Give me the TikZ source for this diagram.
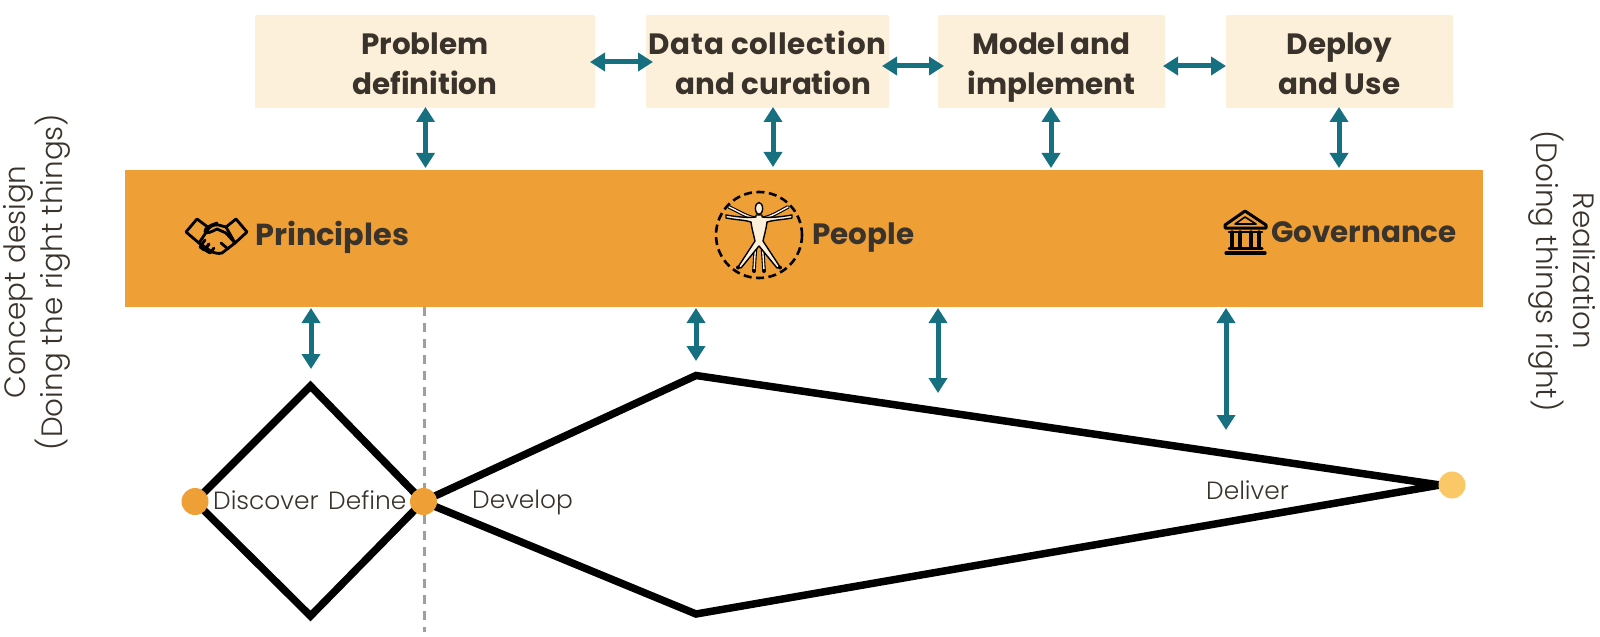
\documentclass[tikz,border=0pt]{standalone}
\usepackage{fontspec}
\usetikzlibrary{arrows.meta}
\setmainfont{Poppins}
\newfontfamily\headfont{Poppins}[UprightFont=* Bold]
\newfontfamily\lightfont{Poppins}[UprightFont=* Light]
\newcommand{\firstline}{\rule{0pt}{38bp}}
\definecolor{boxfill}{HTML}{FDF0DA}
\definecolor{band}{HTML}{EE9F36}
\definecolor{teal}{HTML}{16707F}
\definecolor{ink}{HTML}{3A332B}
\definecolor{dotor}{HTML}{EE9F36}
\definecolor{dotyl}{HTML}{FBC868}
\definecolor{dashgrey}{HTML}{A39E99}
\tikzset{
 x=1bp,y=-1bp,
 topbox/.style={fill=boxfill,rounded corners=2bp,minimum height=93bp,inner sep=0pt,align=center,anchor=center,text=ink,font=\headfont\fontsize{29.5}{40}\selectfont},
 bandtext/.style={text=ink,anchor=base west,inner sep=0pt,font=\headfont\fontsize{29.5}{30}\selectfont},
 lbl/.style={text=ink,inner sep=0pt,anchor=base west,font=\lightfont\fontsize{25}{26}\selectfont},
 side/.style={text=ink,inner sep=0pt,align=center,font=\lightfont\fontsize{29.5}{37}\selectfont},
 link/.style={draw=teal,line width=5bp,{Triangle[length=15bp,width=18bp]}-{Triangle[length=15bp,width=18bp]}},
 heavy/.style={draw=black,line width=7.5bp,line join=miter},
 icon/.style={draw=black,line width=2.8bp,line join=round,line cap=round},
 dot/.style={circle,minimum size=27bp,inner sep=0pt},
 limb/.style={draw=black,line width=3.6bp,line cap=round,line join=round},
 limbcore/.style={draw=boxfill,line width=1.4bp,line cap=round,line join=round},
}
\begin{document}
\begin{tikzpicture}
\useasboundingbox (0,0) rectangle (1600,637);
\fill[white] (0,0) rectangle (1600,637);
% dashed divider
\coordinate (divtop) at (424.5,307);
\coordinate (divbot) at (424.5,632);
\draw[dashgrey,line width=2.6bp,dash pattern=on 9bp off 7bp] (divtop) -- (divbot);
% top boxes
\node[topbox,minimum width=340bp] (problem) at (425,61.5) {\firstline Problem\\\strut definition};
\node[topbox,minimum width=243bp] (data) at (767.5,61.5) {\firstline{\addfontfeature{LetterSpace=2.4}Data collection}\\\strut\hspace{12bp}and curation};
\node[topbox,minimum width=227bp] (model) at (1051.5,61.5) {\firstline Model and\\\strut implement};
\node[topbox,minimum width=227bp] (deploy) at (1339.5,61.5) {\firstline Deploy\\\strut and Use};
% band
\node[fill=band,minimum width=1358bp,minimum height=137bp,inner sep=0pt] (bandbox) at (804,238.5) {};
\node[bandtext,font=\headfont\fontsize{30.5}{30}\selectfont] (principles) at (255,245) {Principles};
\node[bandtext] (people) at (812,244) {People};
\node[bandtext] (governance) at (1271,242) {Governance};
% horizontal links
\coordinate (h1a) at (590,62); \coordinate (h1b) at (653,62);
\coordinate (h2a) at (882,66); \coordinate (h2b) at (944,66);
\coordinate (h3a) at (1163,66); \coordinate (h3b) at (1226,66);
\draw[link] (h1a) -- (h1b);
\draw[link] (h2a) -- (h2b);
\draw[link] (h3a) -- (h3b);
% vertical links top
\draw[link] (425.5,107) coordinate (v1a) -- (425.5,168) coordinate (v1b);
\draw[link] (773,107) coordinate (v2a) -- (773,167) coordinate (v2b);
\draw[link] (1051,107) coordinate (v3a) -- (1051,168) coordinate (v3b);
\draw[link] (1339,107) coordinate (v4a) -- (1339,168) coordinate (v4b);
% vertical links bottom
\draw[link] (311,308) coordinate (l1a) -- (311,369) coordinate (l1b);
\draw[link] (696,308) coordinate (l2a) -- (696,361) coordinate (l2b);
\draw[link] (938,308) coordinate (l3a) -- (938,393) coordinate (l3b);
\draw[link] (1226,308) coordinate (l4a) -- (1226,430) coordinate (l4b);
% diamond and kite
\coordinate (dl) at (195,501.5);
\coordinate (dt) at (310.5,386);
\coordinate (dr) at (423,501.5);
\coordinate (db) at (310.5,616);
\coordinate (kt) at (696,375.5);
\coordinate (kb) at (696,614);
\coordinate (ke) at (1440,485);
\draw[heavy] (dl) -- (dt) -- (dr) -- (db) -- cycle;
\draw[heavy] (dr) -- (kt) -- (ke) -- (kb) -- cycle;
\node[dot,fill=dotor] (startdot) at (195,501.5) {};
\node[dot,fill=dotor] (middot) at (423.5,501.5) {};
\node[dot,fill=dotyl] (enddot) at (1452,485) {};
% labels
\node[lbl] (discover) at (213,509) {Discover};
\node[lbl] (define) at (328,509) {Define};
\node[lbl] (develop) at (472,508) {Develop};
\node[lbl] (deliver) at (1206,499) {Deliver};
\node[side,rotate=90] (concept) at (37,282) {Concept design\\(Doing the right things)};
\node[side,rotate=-90] (realize) at (1562,271) {Realization\\(Doing things right)};
% handshake icon
\begin{scope}[icon]
 \draw (186,232) -- (197,219) -- (209,228) -- (199,243) -- cycle;
 \draw (247,232) -- (236,219) -- (226,227) -- (235,243) -- cycle;
 \draw (209,228) .. controls (216,222) and (220,226) .. (226,227);
 \draw (226,233) -- (217,229) .. controls (211,232) and (207,234) .. (205,232) .. controls (204,228) and (211,225) .. (217,223);
 \draw (199,243) -- (212,252) .. controls (216,253) and (218,254) .. (222,253) -- (235,243);
 \draw (226,233) -- (235,243);
 \draw (205,240) -- (200,247) -- (204,250) -- (209,244);
 \draw (209,244) -- (205,250) -- (210,253) -- (214,248);
 \draw (221,243) -- (228,249);
\end{scope}
% vitruvian icon
\draw[black,line width=2.6bp,dash pattern=on 8bp off 4.5bp] (759,235) circle (43);
% raised arms and inner legs
\draw[limb] (754,218) .. controls (745,216) and (738,211) .. (729,207);
\draw[limb] (764,218) .. controls (773,216) and (780,211) .. (788,207);
\draw[limb] (756,240) -- (754,270);
\draw[limb] (762,240) -- (764,270);
\draw[limbcore] (754,218) .. controls (745,216) and (738,211) .. (729,207);
\draw[limbcore] (764,218) .. controls (773,216) and (780,211) .. (788,207);
\draw[limbcore] (756,240) -- (754,270);
\draw[limbcore] (762,240) -- (764,270);
% body with level arms and wide legs
\fill[boxfill,draw=black,line width=1.4bp,line join=round]
 (756,215) -- (756,217) .. controls (748,218) and (738,217) .. (726,215) -- (726,218) .. controls (737,220) and (745,220) .. (751,222)
 .. controls (752,230) and (754,236) .. (755,241) -- (738,267) -- (741,268) -- (759,246) -- (777,268) -- (780,267) -- (763,241)
 .. controls (764,236) and (766,230) .. (767,222) .. controls (773,220) and (781,220) .. (792,218) -- (792,215)
 .. controls (780,217) and (770,218) .. (762,217) -- (762,215) -- cycle;
\fill[boxfill,draw=black,line width=1.4bp] (759,208.5) ellipse (3.6 and 6);
\fill[black] (738,267.5) circle (2) (780,267.5) circle (2) (754,271) circle (2) (764,271) circle (2);
% temple icon
\begin{scope}[icon]
 \draw[line width=3bp] (1225,225) -- (1245,211) -- (1266,225) -- (1266,228) -- (1225,228) -- cycle;
 \draw[line width=1.6bp] (1235,224) -- (1245,217) -- (1256,224) -- cycle;
 \draw[line width=3.4bp] (1232,232) -- (1232,247) (1240,232) -- (1240,247) (1251,232) -- (1251,247) (1259,232) -- (1259,247);
 \draw[line width=2.6bp] (1229,232) -- (1262,232);
 \draw[line width=3bp] (1229,248) -- (1262,248);
 \draw[line width=3.2bp] (1226,253) -- (1265,253);
\end{scope}
\end{tikzpicture}
\end{document}
